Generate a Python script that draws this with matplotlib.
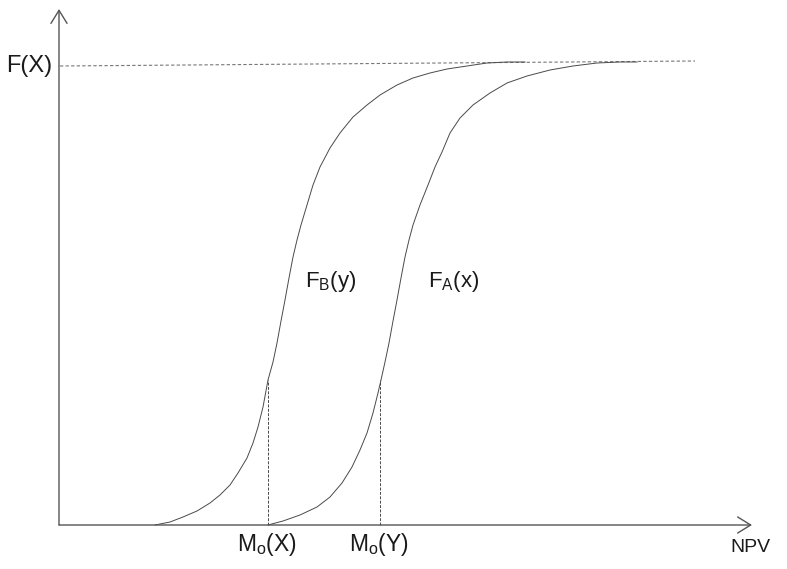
import matplotlib.pyplot as plt

# schematic units: origin at the crossing of the axes, y = height of the cumulative curve
fb_x = [96, 111, 124, 138, 151, 161, 171, 179, 188, 194, 199, 204, 209,
        214, 218, 222, 226, 230, 234, 238, 242,
        248, 254, 261, 271, 281, 294, 308, 321, 338, 354, 371, 388, 408, 428, 448, 466]
fb_y = [0, 3, 8, 14, 22, 30, 40, 52, 67, 82, 98, 118, 145,
        163, 182, 204, 225, 247, 268, 285, 300,
        320, 340, 358, 377, 392, 408, 420, 430, 440, 447, 452, 456, 459, 462, 463, 463]

fa_x = [209, 224, 241, 258, 271, 283, 293, 301, 308, 314, 319, 322,
        326, 330, 334, 338, 342, 346, 350, 354,
        361, 369, 376, 383, 391, 401, 414, 431, 448, 468, 491, 514, 538, 561, 578]
fa_y = [0, 4, 10, 18, 28, 42, 58, 75, 92, 112, 132, 145,
        163, 182, 204, 225, 247, 268, 285, 300,
        320, 340, 358, 373, 392, 407, 420, 432, 442, 449, 455, 459, 462, 463, 463]

mode_x = [209, 321]          # Mo(X), Mo(Y)
mode_y = [145, 145]
mode_labels = ["M$_\\mathregular{o}$(X)", "M$_\\mathregular{o}$(Y)"]

top_x = [1, 636]
top_y = [459, 464]

line_col = "#4a4a4a"
text_col = "#1a1a1a"
plt.rcParams['font.family'] = ['Liberation Sans', 'DejaVu Sans']
plt.rcParams['mathtext.fontset'] = 'custom'
plt.rcParams['mathtext.rm'] = 'Liberation Sans'

fig = plt.figure(figsize=(7.87, 5.69), dpi=100)
ax = fig.add_axes([0, 0, 1, 1])
ax.set_xlim(-59, 728)
ax.set_ylim(-44, 525)
ax.axis("off")

# axes with open arrow heads
arrow = dict(arrowstyle="->, head_length=0.47, head_width=0.29", color="#555555",
             lw=1.0, shrinkA=0, shrinkB=0, mutation_scale=20)
ax.annotate("", xy=(693, 0), xytext=(0, 0), arrowprops=arrow)
ax.annotate("", xy=(0, 516), xytext=(0, 0), arrowprops=arrow)

# level line F(X)
ax.plot(top_x, top_y, color="#777777", lw=0.8, ls=(0, (3, 2)))

# the two distribution curves
ax.plot(fb_x, fb_y, color=line_col, lw=0.7)
ax.plot(fa_x, fa_y, color=line_col, lw=0.7)

# drop lines from the marked points
for mx, my, lab in zip(mode_x, mode_y, mode_labels):
    ax.plot([mx, mx], [0, my], color=line_col, lw=0.7, ls=(0, (3, 1.5)))
    ax.text(mx - 1, -20, lab, ha="center", va="center", fontsize=16.5, color=text_col)

ax.text(-30, 459, "F(X)", ha="center", va="center", fontsize=17, color=text_col)
ax.text(691, -23, "NPV", ha="center", va="center", fontsize=14, color=text_col)
ax.text(272, 243, "F$_\\mathregular{B}$(y)", ha="center", va="center", fontsize=16, color=text_col)
ax.text(395, 243, "F$_\\mathregular{A}$(x)", ha="center", va="center", fontsize=16, color=text_col)

plt.savefig("out.png", dpi=100)
plt.close()
